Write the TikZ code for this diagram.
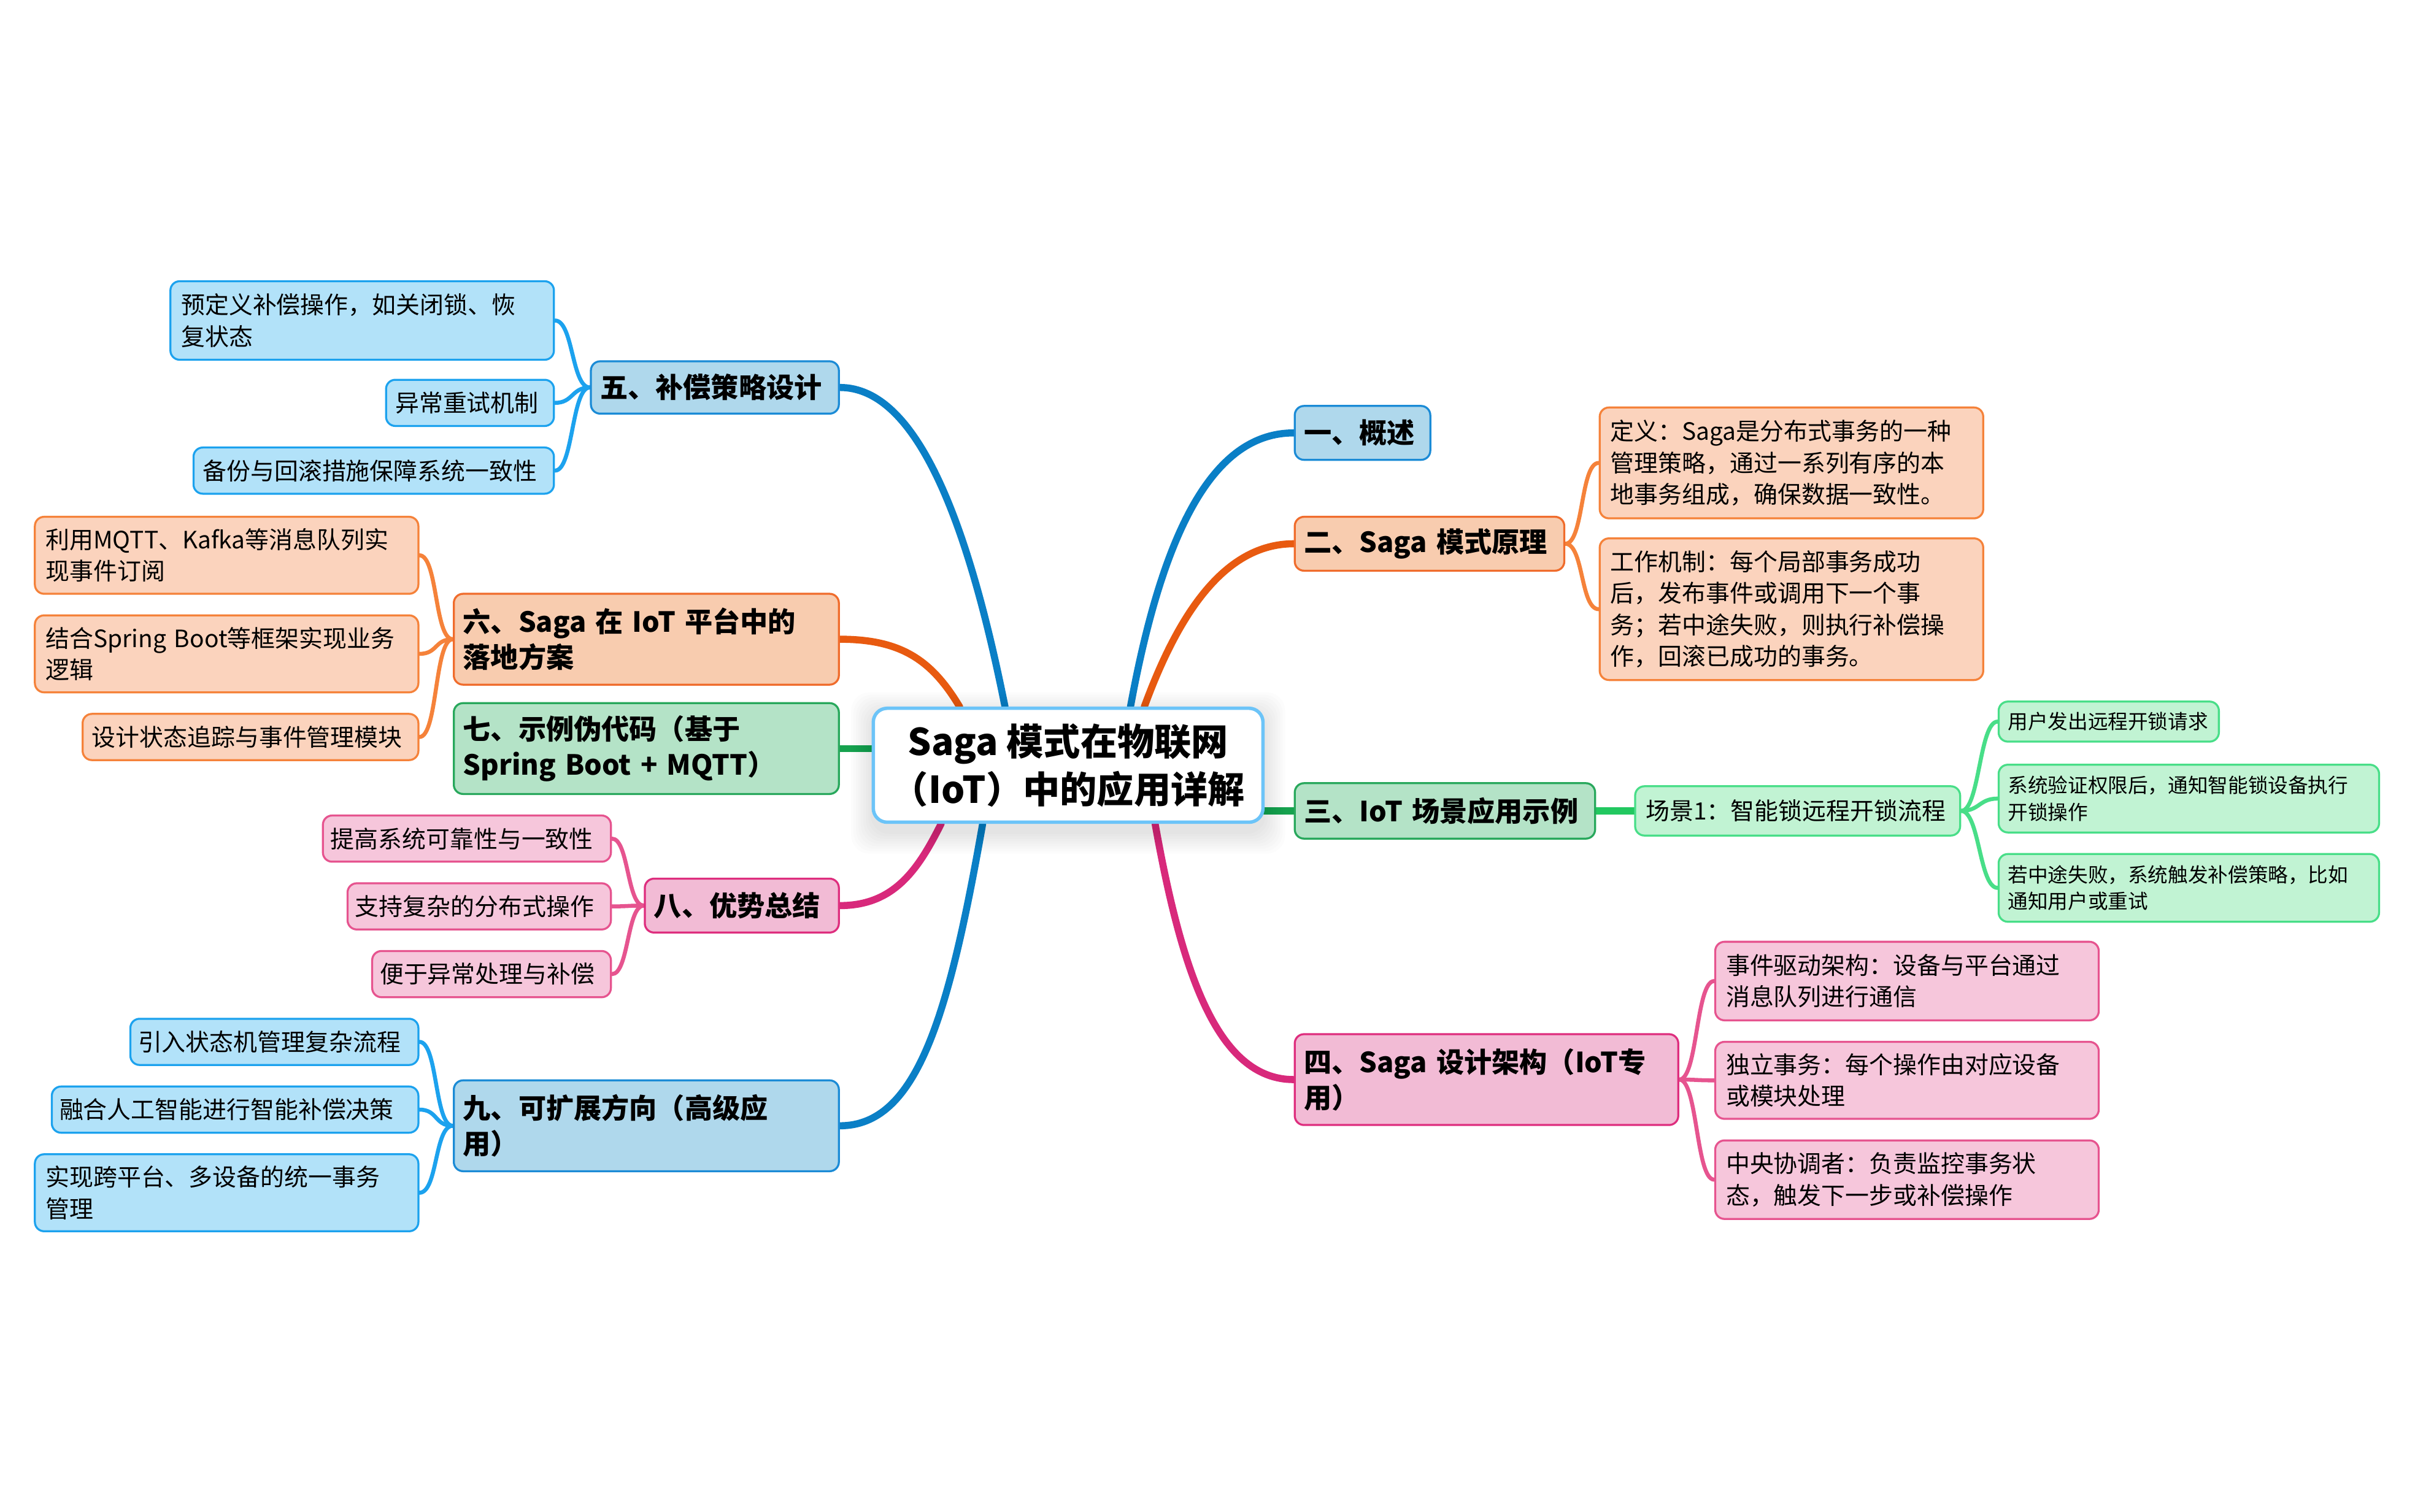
\documentclass[tikz,border=0pt]{standalone}
\usepackage{fontspec}
\setmainfont{Noto Sans CJK SC}
\XeTeXlinebreaklocale "zh"
\usetikzlibrary{backgrounds}
\definecolor{bMain}{HTML}{0A7FC6}
\definecolor{bFill}{HTML}{AFD8EC}
\definecolor{bBord}{HTML}{1B8BD6}
\definecolor{bcFill}{HTML}{B2E2F9}
\definecolor{bcBord}{HTML}{1CA2EE}
\definecolor{oMain}{HTML}{E85A10}
\definecolor{oFill}{HTML}{F8CCAF}
\definecolor{oBord}{HTML}{F06C2C}
\definecolor{ocFill}{HTML}{FBD3BD}
\definecolor{ocBord}{HTML}{F5823A}
\definecolor{gMain}{HTML}{16A24E}
\definecolor{gFill}{HTML}{B4E3C7}
\definecolor{gBord}{HTML}{28A85C}
\definecolor{gcFill}{HTML}{C1F3D3}
\definecolor{gcBord}{HTML}{48DE88}
\definecolor{gLink}{HTML}{22C860}
\definecolor{pMain}{HTML}{D8297B}
\definecolor{pFill}{HTML}{F2BBD5}
\definecolor{pBord}{HTML}{DE2E7E}
\definecolor{pcFill}{HTML}{F6C6DB}
\definecolor{pcBord}{HTML}{E6548F}
\definecolor{cBord}{HTML}{6CC4F8}
\tikzset{
  box/.style={rounded corners=6pt, anchor=north west, align=left, inner xsep=7pt, inner ysep=0pt, line width=1.3pt},
  mainbox/.style={box, inner xsep=6pt, font=\fontsize{18}{23}\selectfont\bfseries},
  childbox/.style={box, font=\fontsize{15.5}{20.5}\selectfont},
  smallbox/.style={box, inner xsep=6pt, font=\fontsize{13}{17.5}\selectfont},
  blueM/.style={mainbox, fill=bFill, draw=bBord},
  orangeM/.style={mainbox, fill=oFill, draw=oBord},
  greenM/.style={mainbox, fill=gFill, draw=gBord},
  pinkM/.style={mainbox, fill=pFill, draw=pBord},
  blueC/.style={childbox, fill=bcFill, draw=bcBord},
  orangeC/.style={childbox, fill=ocFill, draw=ocBord},
  greenC/.style={childbox, fill=gcFill, draw=gcBord},
  pinkC/.style={childbox, fill=pcFill, draw=pcBord},
  greenS/.style={smallbox, fill=gcFill, draw=gcBord},
  sz/.style n args={2}{minimum width=#1, minimum height=#2},
  mainline/.style={line width=4.6pt, line cap=round},
  subline/.style={line width=2.6pt, line cap=round},
}
\begin{document}
\begin{tikzpicture}[x=1pt,y=-1pt]
\useasboundingbox (0,0) rectangle (1568,981.6);
\begin{scope}[on background layer]
\fill[white] (0,0) rectangle (1568,981.6);
\end{scope}
% soft shadow of the central node
\foreach \i in {1,...,9}
  \fill[black, opacity=0.012, rounded corners=12pt] (567-1.6*\i, 464-1.6*\i) rectangle (820+1.6*\i, 540+1.6*\i);
% central
\node[draw=cBord, line width=2.2pt, fill=white, rounded corners=9pt, minimum width=253pt, minimum height=74pt, align=center, inner sep=0pt, font=\fontsize{24}{31}\selectfont\bfseries] (c) at (693.5,497) {Saga 模式在物联网\\（IoT）中的应用详解};
% right side
\node[blueM, sz={88pt}{35pt}, text width=76pt] (n1) at (840,263) {一、概述};
\node[orangeM, sz={175pt}{35pt}, text width=163pt] (n2) at (840,335) {二、Saga 模式原理};
\node[orangeC, sz={249pt}{72pt}, text width=235pt] (n2a) at (1038,264) {定义：Saga是分布式事务的一种\\管理策略，通过一系列有序的本\\地事务组成，确保数据一致性。};
\node[orangeC, sz={249pt}{92pt}, text width=235pt] (n2b) at (1038,349) {工作机制：每个局部事务成功\\后，发布事件或调用下一个事\\务；若中途失败，则执行补偿操\\作，回滚已成功的事务。};
\node[greenM, sz={195pt}{36pt}, text width=183pt] (n3) at (840,508) {三、IoT 场景应用示例};
\node[greenC, sz={211pt}{32pt}, text width=197pt] (n3a) at (1061,510) {场景1：智能锁远程开锁流程};
\node[greenS, sz={143pt}{26pt}, text width=131pt] (n3a1) at (1297,455) {用户发出远程开锁请求};
\node[greenS, sz={247pt}{44pt}, text width=235pt] (n3a2) at (1297,496) {系统验证权限后，通知智能锁设备执行\\开锁操作};
\node[greenS, sz={247pt}{44pt}, text width=235pt] (n3a3) at (1297,554) {若中途失败，系统触发补偿策略，比如\\通知用户或重试};
\node[pinkM, sz={249pt}{59pt}, text width=237pt] (n4) at (840,671) {四、Saga 设计架构（IoT专\\用）};
\node[pinkC, sz={249pt}{51pt}, text width=235pt] (n4a) at (1113,611) {事件驱动架构：设备与平台通过\\消息队列进行通信};
\node[pinkC, sz={249pt}{50pt}, text width=235pt] (n4b) at (1113,676) {独立事务：每个操作由对应设备\\或模块处理};
\node[pinkC, sz={249pt}{51pt}, text width=235pt] (n4c) at (1113,740) {中央协调者：负责监控事务状\\态，触发下一步或补偿操作};
% left side
\node[blueM, sz={161pt}{34pt}, text width=149pt] (n5) at (383,234) {五、补偿策略设计};
\node[blueC, sz={249pt}{51pt}, text width=235pt] (n5a) at (110,182) {预定义补偿操作，如关闭锁、恢\\复状态};
\node[blueC, sz={109pt}{30pt}, text width=97pt, inner xsep=6pt] (n5b) at (250,246) {异常重试机制};
\node[blueC, sz={234pt}{30pt}, text width=222pt, inner xsep=6pt] (n5c) at (125,290) {备份与回滚措施保障系统一致性};
\node[orangeM, sz={250pt}{59pt}, text width=238pt] (n6) at (294,385) {六、Saga 在 IoT 平台中的\\落地方案};
\node[orangeC, sz={249pt}{50pt}, text width=235pt] (n6a) at (22,335) {利用MQTT、Kafka等消息队列实\\现事件订阅};
\node[orangeC, sz={249pt}{50pt}, text width=235pt] (n6b) at (22,399) {结合Spring Boot等框架实现业务\\逻辑};
\node[orangeC, sz={218pt}{30pt}, text width=206pt, inner xsep=6pt] (n6c) at (53,463) {设计状态追踪与事件管理模块};
\node[greenM, sz={250pt}{59pt}, text width=238pt] (n7) at (294,456) {七、示例伪代码（基于\\Spring Boot + MQTT）};
\node[pinkM, sz={126pt}{35pt}, text width=114pt] (n8) at (418,570) {八、优势总结};
\node[pinkC, sz={187pt}{30pt}, text width=177pt, inner xsep=5pt] (n8a) at (209,529) {提高系统可靠性与一致性};
\node[pinkC, sz={171pt}{30pt}, text width=161pt, inner xsep=5pt] (n8b) at (225,573) {支持复杂的分布式操作};
\node[pinkC, sz={155pt}{30pt}, text width=145pt, inner xsep=5pt] (n8c) at (241,617) {便于异常处理与补偿};
\node[blueM, sz={250pt}{59pt}, text width=238pt] (n9) at (294,701) {九、可扩展方向（高级应\\用）};
\node[blueC, sz={187pt}{30pt}, text width=177pt, inner xsep=5pt] (n9a) at (84,661) {引入状态机管理复杂流程};
\node[blueC, sz={238pt}{30pt}, text width=228pt, inner xsep=5pt] (n9b) at (33,705) {融合人工智能进行智能补偿决策};
\node[blueC, sz={249pt}{50pt}, text width=235pt] (n9c) at (22,749) {实现跨平台、多设备的统一事务\\管理};
% connectors
\begin{scope}[on background layer]
\draw[mainline, bMain] ([xshift=40.5pt]c.north) .. controls +(22,-120) and +(-50,0) .. (n1.west);
\draw[mainline, oMain] ([xshift=49.5pt]c.north) .. controls +(22,-60) and +(-45,0) .. (n2.west);
\draw[mainline, gMain] (c.east |- n3.west) -- (n3.west);
\draw[mainline, pMain] ([xshift=56.5pt]c.south) .. controls +(17,95) and +(-50,0) .. (n4.west);
\draw[mainline, bMain] ([xshift=-41pt]c.north) .. controls +(-24,-120) and +(50,0) .. (n5.east);
\draw[mainline, oMain] ([xshift=-70.5pt]c.north) .. controls +(-18,-30) and +(40,0) .. (n6.east);
\draw[mainline, gMain] (c.west |- n7.east) -- (n7.east);
\draw[mainline, pMain] ([xshift=-82.5pt]c.south) .. controls +(-15,30) and +(35,0) .. (n8.east);
\draw[mainline, bMain] ([xshift=-55.5pt]c.south) .. controls +(-22,125) and +(50,0) .. (n9.east);
\foreach \t in {n2a,n2b} \draw[subline, ocBord] (n2.east) .. controls +(12,0) and +(-12,0) .. (\t.west);
\draw[mainline, gLink] (n3.east) -- (n3a.west);
\foreach \t in {n3a1,n3a2,n3a3} \draw[subline, gcBord] (n3a.east) .. controls +(12,0) and +(-12,0) .. (\t.west);
\foreach \t in {n4a,n4b,n4c} \draw[subline, pcBord] (n4.east) .. controls +(12,0) and +(-12,0) .. (\t.west);
\foreach \t in {n5a,n5b,n5c} \draw[subline, bcBord] (n5.west) .. controls +(-12,0) and +(12,0) .. (\t.east);
\foreach \t in {n6a,n6b,n6c} \draw[subline, ocBord] (n6.west) .. controls +(-12,0) and +(12,0) .. (\t.east);
\foreach \t in {n8a,n8b,n8c} \draw[subline, pcBord] (n8.west) .. controls +(-11,0) and +(11,0) .. (\t.east);
\foreach \t in {n9a,n9b,n9c} \draw[subline, bcBord] (n9.west) .. controls +(-12,0) and +(12,0) .. (\t.east);
\end{scope}
\end{tikzpicture}
\end{document}
